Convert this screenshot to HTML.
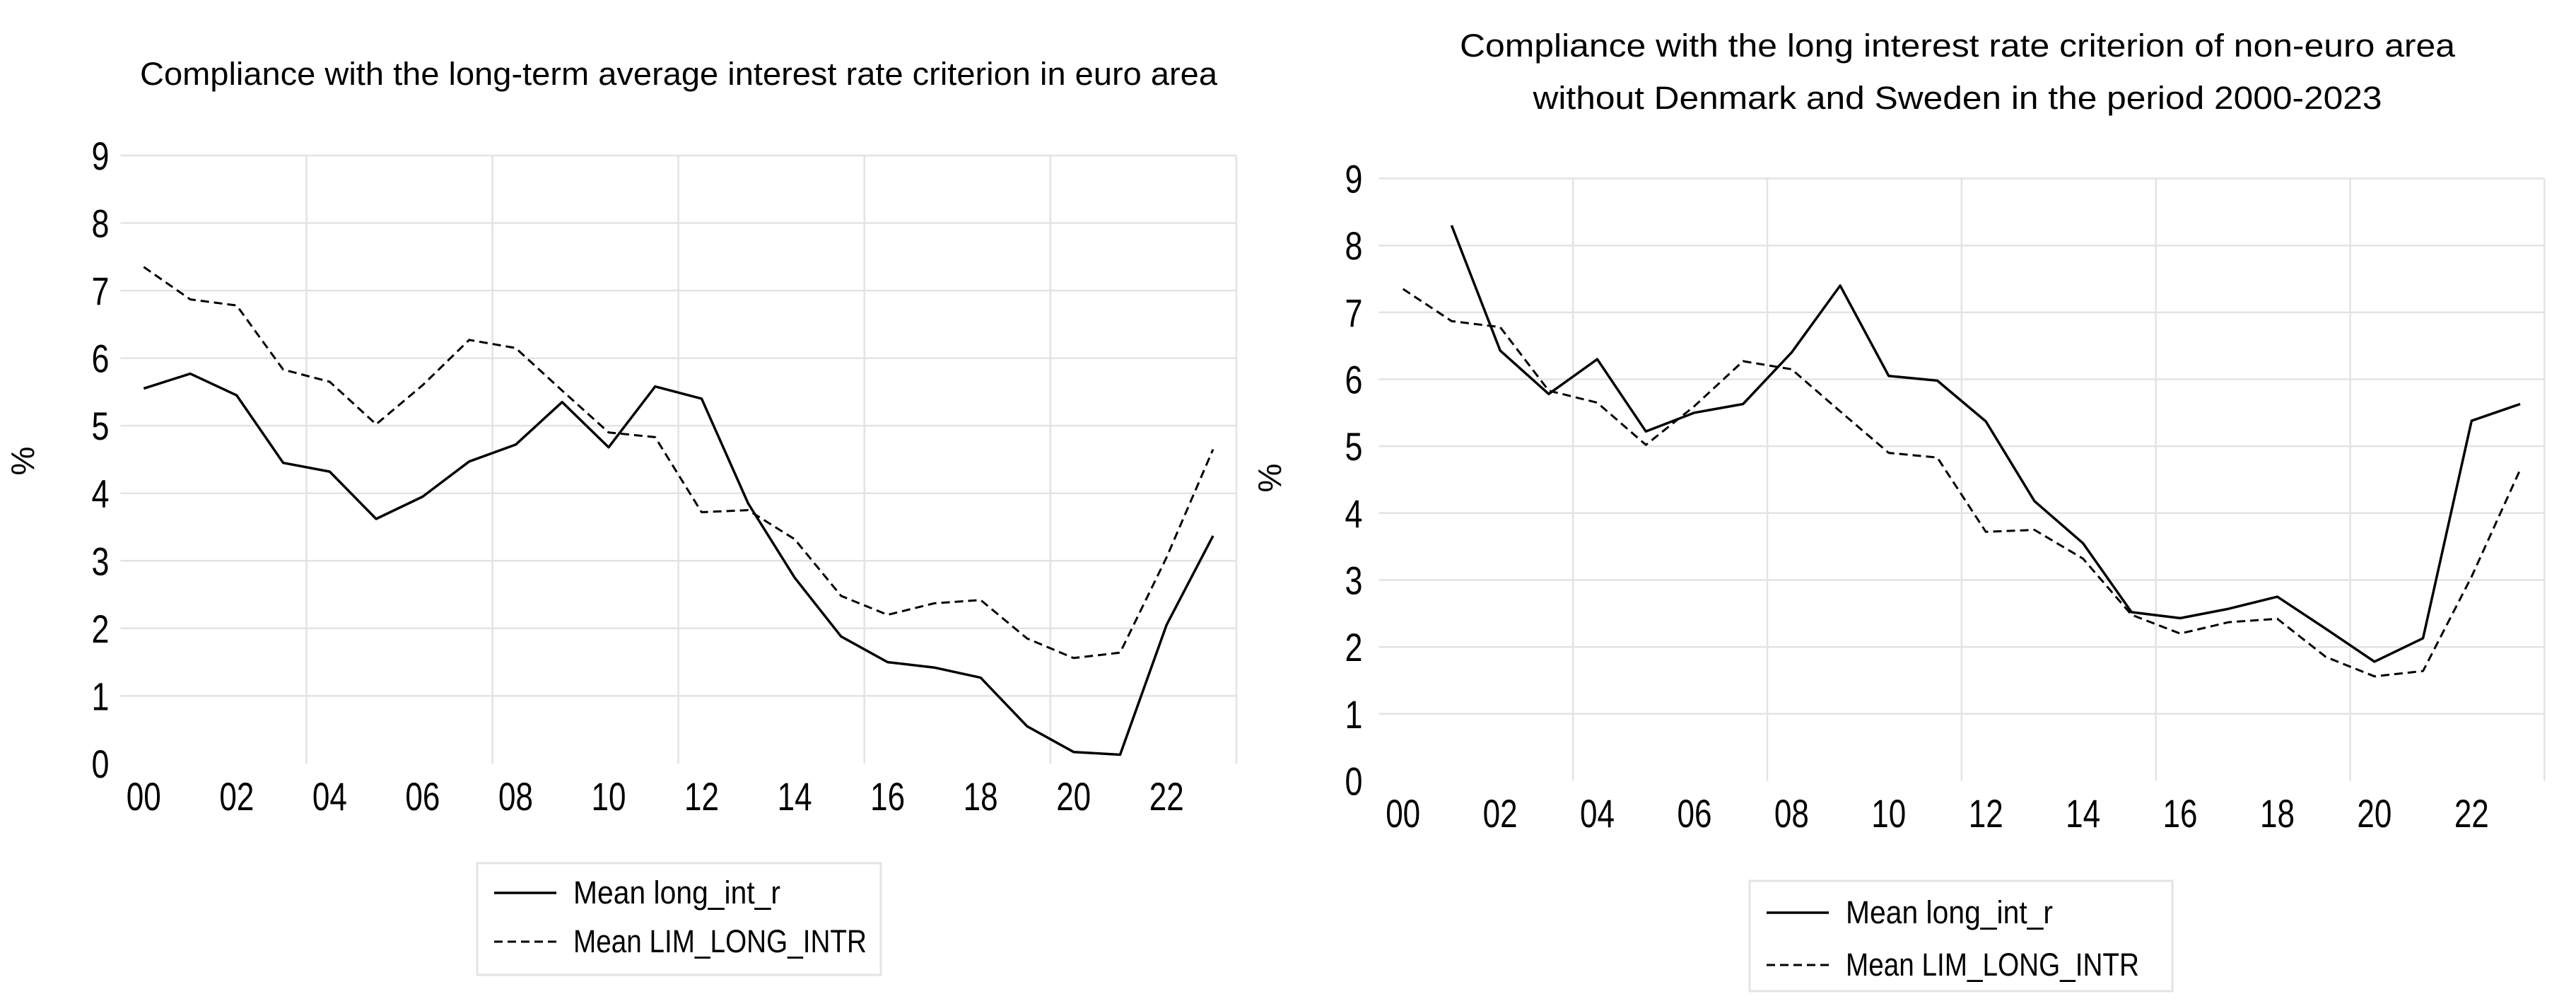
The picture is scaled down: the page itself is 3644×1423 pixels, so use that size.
<!DOCTYPE html>
<html><head><meta charset="utf-8"><style>
html,body{margin:0;padding:0;background:#fff;}
svg{display:block;}
text{font-family:"Liberation Sans",sans-serif;fill:#000;}
</style></head><body>
<svg id="svg" width="3644" height="1423" viewBox="0 0 3644 1423" xmlns="http://www.w3.org/2000/svg">
  <text x="960" y="120" font-size="45" text-anchor="middle" textLength="1524" lengthAdjust="spacingAndGlyphs">Compliance with the long-term average interest rate criterion in euro area</text>
  <text x="2769" y="80" font-size="45" text-anchor="middle" textLength="1408" lengthAdjust="spacingAndGlyphs">Compliance with the long interest rate criterion of non-euro area</text>
  <text x="2769" y="154" font-size="45" text-anchor="middle" textLength="1201" lengthAdjust="spacingAndGlyphs">without Denmark and Sweden in the period 2000-2023</text>
  <g id="left"></g>
  <g id="right"></g>
</svg>
<script>
const years = [0,1,2,3,4,5,6,7,8,9,10,11,12,13,14,15,16,17,18,19,20,21,22,23];
const xTickLabels = ["00","02","04","06","08","10","12","14","16","18","20","22"];
const yTickLabels = [0,1,2,3,4,5,6,7,8,9];
const euroLongIntR = [5.55,5.77,5.45,4.45,4.32,3.62,3.95,4.47,4.72,5.35,4.68,5.58,5.40,3.85,2.75,1.88,1.50,1.42,1.27,0.55,0.17,0.13,2.05,3.37];
const euroLimLongIntr = [7.35,6.87,6.78,5.83,5.65,5.02,5.60,6.27,6.15,5.52,4.90,4.83,3.72,3.75,3.32,2.48,2.20,2.37,2.42,1.85,1.56,1.64,3.05,4.65];
const nonEuroLongIntR = [null,8.30,6.43,5.78,6.30,5.22,5.50,5.63,6.40,7.40,6.05,5.98,5.37,4.18,3.55,2.52,2.43,2.57,2.75,2.27,1.78,2.13,5.38,5.63];
const nonEuroLimLongIntr = [7.35,6.87,6.78,5.83,5.65,5.02,5.60,6.27,6.15,5.52,4.90,4.83,3.72,3.75,3.32,2.48,2.20,2.37,2.42,1.85,1.56,1.64,3.05,4.65];
const NS = "http://www.w3.org/2000/svg";
function mk(tag, attrs, parent){const e=document.createElementNS(NS,tag);for(const k in attrs)e.setAttribute(k,attrs[k]);parent.appendChild(e);return e;}
function drawChart(g, cfg, solid, dashed, prefix){
  const xs = yr => cfg.x0 + cfg.dx*yr;
  const ys = v => cfg.y0 - cfg.dy*v;
  const left = xs(-0.5), right = xs(23.5);
  yTickLabels.forEach(v=>{
    if(v>0){const l=mk('line',{x1:left,x2:right,y1:ys(v),y2:ys(v),stroke:'#e3e3e3','stroke-width':2.5},g);
    
    }
    const t=mk('text',{x:cfg.ylx,y:ys(v)+20,'font-size':56,'text-anchor':'middle',textLength:25,lengthAdjust:'spacingAndGlyphs'},g);
    t.textContent=v;
    
    
  });
  [3.5,7.5,11.5,15.5,19.5,23.5].forEach(p=>{
    const l=mk('line',{x1:xs(p),x2:xs(p),y1:ys(9),y2:ys(0),stroke:'#e3e3e3','stroke-width':2.5},g);
    
    
  });
  xTickLabels.forEach((s,i)=>{
    const t=mk('text',{x:xs(i*2),y:cfg.xly,'font-size':56,'text-anchor':'middle',textLength:49,lengthAdjust:'spacingAndGlyphs'},g);
    t.textContent=s;
    
    
  });
  const yt=mk('text',{x:0,y:0,'font-size':46,'text-anchor':'middle',transform:`translate(${cfg.pctx},${cfg.pcty}) rotate(-90)`},g);
  yt.textContent='%';
  
  
  function path(arr){let d='';arr.forEach((v,i)=>{if(v==null)return;d+=(d?'L':'M')+xs(years[i]).toFixed(1)+','+ys(v).toFixed(1);});return d;}
  const p1=mk('path',{d:path(dashed),fill:'none',stroke:'#000','stroke-width':3,'stroke-dasharray':'12,7','stroke-linejoin':'round'},g);
  
  
  const p2=mk('path',{d:path(solid),fill:'none',stroke:'#000','stroke-width':3.5,'stroke-linejoin':'round'},g);
  
  
  const L=cfg.leg;
  const lg=mk('g',{},g);
  
  
  mk('rect',{x:L.x,y:L.y,width:L.w,height:L.h,fill:'#fff',stroke:'#e3e3e3','stroke-width':3},lg);
  const e1=mk('line',{x1:L.x+24,x2:L.x+112,y1:L.r1,y2:L.r1,stroke:'#000','stroke-width':3.5},lg);
  
  
  const e2=mk('line',{x1:L.x+24,x2:L.x+112,y1:L.r2,y2:L.r2,stroke:'#000','stroke-width':3,'stroke-dasharray':'12,7'},lg);
  
  
  const t1=mk('text',{x:L.x+136,y:L.r1+15,'font-size':45,textLength:293,lengthAdjust:'spacingAndGlyphs'},lg);
  t1.textContent='Mean long_int_r';
  
  
  const t2=mk('text',{x:L.x+136,y:L.r2+15,'font-size':45,textLength:415,lengthAdjust:'spacingAndGlyphs'},lg);
  t2.textContent='Mean LIM_LONG_INTR';
  
  
}
drawChart(document.getElementById('left'),
  {x0:203.3,dx:65.77,y0:1079.9,dy:95.55,ylx:142,xly:1146,pctx:48,pcty:652,
   leg:{x:675,y:1221,w:571,h:158,r1:1263,r2:1332}}, euroLongIntR, euroLimLongIntr, 'left');
drawChart(document.getElementById('right'),
  {x0:1984.7,dx:68.71,y0:1104.4,dy:94.65,ylx:1915,xly:1170,pctx:1812,pcty:676,
   leg:{x:2475,y:1246,w:598,h:156,r1:1291,r2:1365}}, nonEuroLongIntR, nonEuroLimLongIntr, 'right');
</script>
</body></html>
